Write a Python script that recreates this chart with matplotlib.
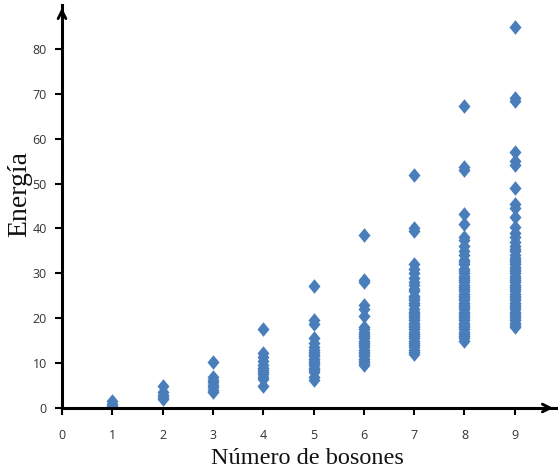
import matplotlib
matplotlib.use("Agg")
import matplotlib.pyplot as plt

# Energy levels for each number of bosons
bosones = [1, 2, 3, 4, 5, 6, 7, 8, 9]

energia_1 = [1.6, 1.0, 0.5]
energia_2 = [5.0, 3.5, 3.0, 2.5, 2.0]
energia_3 = [10.3, 7.0, 6.3, 5.8, 5.2, 4.6, 4.0, 3.5]
energia_4 = [17.6, 12.2, 11.3, 10.5, 9.5, 9.0, 8.5, 8.0, 7.5, 7.0, 6.5, 5.0]
energia_5 = [27.2, 19.5, 18.8, 15.5, 14.5, 13.5, 13.0, 12.5, 12.0, 11.5,
             11.0, 10.5, 10.0, 9.5, 9.0, 8.5, 8.0, 7.0, 6.2]
energia_6 = [38.5, 28.6, 28.0, 23.0, 22.0, 20.5, 18.0, 17.5, 17.0, 16.5,
             16.0, 15.5, 15.0, 14.5, 14.0, 13.5, 13.0, 12.5, 12.0, 11.5,
             11.0, 10.5, 10.0, 9.5]
energia_7 = [52.0, 40.0, 39.5, 32.0, 31.0, 30.0, 29.0, 28.0, 27.5, 26.5,
             26.0, 25.0, 24.5, 24.0, 23.5, 23.0, 22.0, 21.5, 21.0, 20.5,
             20.0, 19.5, 19.0, 18.5, 18.0, 17.5, 17.0, 16.5, 16.0, 15.5,
             15.0, 14.5, 14.0, 13.5, 13.0, 12.5, 12.0]
energia_8 = [67.3, 53.6, 53.0, 43.3, 41.0, 38.0, 37.5, 36.0, 35.0, 34.0,
             33.0, 32.5, 32.0, 31.0, 30.5, 30.0, 29.5, 29.0, 28.5, 28.0,
             27.5, 27.0, 26.5, 26.0, 25.5, 25.0, 24.5, 24.0, 23.5, 23.0,
             22.5, 22.0, 21.5, 21.0, 20.5, 20.0, 19.5, 19.0, 18.5, 18.0,
             17.5, 17.0, 16.5, 16.0, 15.5, 15.0]
energia_9 = [84.9, 69.0, 68.5, 57.0, 55.0, 54.2, 49.0, 45.5, 44.5, 42.5,
             40.3, 39.0, 38.0, 37.0, 36.0, 35.5, 35.0, 34.0, 33.5, 33.0,
             32.5, 32.0, 31.5, 31.0, 30.5, 30.0, 29.5, 29.0, 28.5, 28.0,
             27.5, 27.0, 26.5, 26.0, 25.5, 25.0, 24.5, 24.0, 23.5, 23.0,
             22.5, 22.0, 21.5, 21.0, 20.5, 20.0, 19.5, 19.0, 18.5, 18.0]

energias = [energia_1, energia_2, energia_3, energia_4, energia_5,
            energia_6, energia_7, energia_8, energia_9]

x_ticks = [0, 1, 2, 3, 4, 5, 6, 7, 8, 9]
y_ticks = [0, 10, 20, 30, 40, 50, 60, 70, 80]

W, H = 558, 476
fig = plt.figure(figsize=(W / 100, H / 100), dpi=100)
ax = fig.add_axes([62 / W, 68 / H, (556 - 62) / W, (408 - 5) / H])

# slightly tall diamond marker
diamante = [(0, 1), (0.82, 0), (0, -1), (-0.82, 0), (0, 1)]

xs, ys = [], []
for n, vals in zip(bosones, energias):
    xs.extend([n] * len(vals))
    ys.extend(vals)
ax.plot(xs, ys, linestyle="none", marker=diamante, markersize=10.5,
        color="#4a7ebb", markeredgewidth=0)

ax.set_xlim(0, 9.82)
ax.set_ylim(0, 89.8)

for side in ("top", "right"):
    ax.spines[side].set_visible(False)
for side in ("left", "bottom"):
    ax.spines[side].set_linewidth(2.2)
    ax.spines[side].set_color("black")

# arrow heads on both axes
ax.annotate("", xy=(0, 1.0), xytext=(0, 0.97), xycoords="axes fraction",
            arrowprops=dict(arrowstyle="->", lw=2, color="black",
                            mutation_scale=14), annotation_clip=False)
ax.annotate("", xy=(1.0, 0), xytext=(0.97, 0), xycoords="axes fraction",
            arrowprops=dict(arrowstyle="->", lw=2, color="black",
                            mutation_scale=14), annotation_clip=False)

ax.set_xticks(x_ticks)
ax.set_yticks(y_ticks)
ax.tick_params(axis="both", direction="out", length=5, width=1.5,
               colors="black", labelcolor="#333333", labelsize=9)
ax.tick_params(axis="x", pad=10)
ax.tick_params(axis="y", pad=6)
for lab in ax.get_xticklabels() + ax.get_yticklabels():
    lab.set_fontfamily("Open Sans")

ax.set_xlabel("Número de bosones", fontfamily="Liberation Serif",
              fontsize=17.5, color="#111111")
ax.set_ylabel("Energía", fontfamily="Liberation Serif",
              fontsize=20, color="#111111")
ax.xaxis.set_label_coords((307 - 62) / (556 - 62), -(458 - 408) / (408 - 5))
ax.yaxis.set_label_coords(-(62 - 20) / (556 - 62), (408 - 194) / (408 - 5))
ax.xaxis.label.set_va("center")
ax.yaxis.label.set_va("center")

fig.savefig("out.png", dpi=100)
